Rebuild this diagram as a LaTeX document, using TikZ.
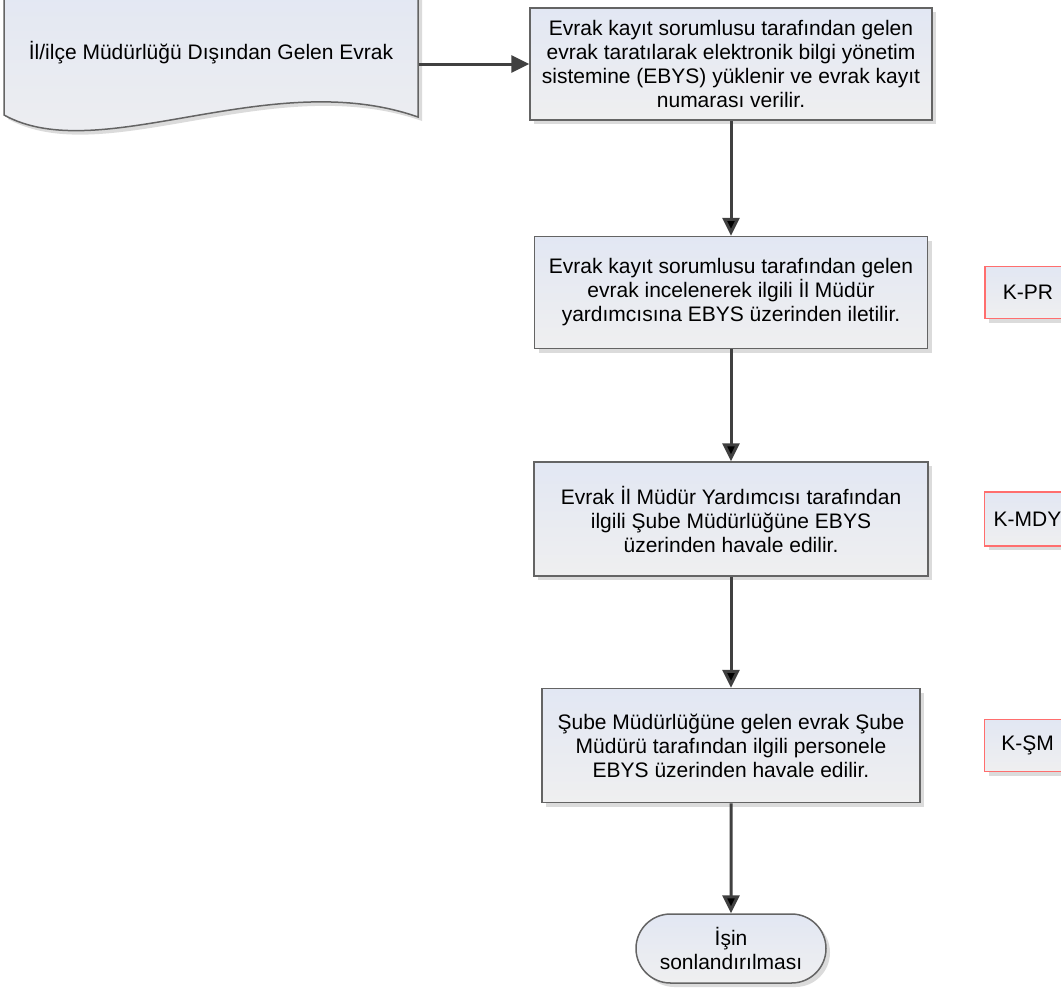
\documentclass[tikz,border=0pt]{standalone}
\usepackage{fontspec}
\setmainfont{Liberation Sans}
\usetikzlibrary{positioning, shapes.misc, shadows, arrows.meta}

\begin{document}
\begin{tikzpicture}[x=0.5pt, y=-0.5pt, ->, >={Triangle[width=8.5pt,length=9pt]}, node distance=57pt, semithick]
%====Renk tanimlari===============================================================
	\definecolor{kenargri}{RGB}{100,100,100}
	\definecolor{okgri}{RGB}{64,64,64}
	\definecolor{ustmavi}{RGB}{226,231,243}
	\definecolor{altgri}{RGB}{239,239,240}
	\definecolor{kodkirmizi}{RGB}{255,110,110}
%====Stil tanimlari===============================================================
	\tikzstyle{golge}=[drop shadow={shadow xshift=2pt, shadow yshift=-2pt, fill=black!14, opacity=1}]
	\tikzstyle{islem}=[rectangle, draw=kenargri, line width=0.75pt, top color=ustmavi, bottom color=altgri, golge, align=center, inner sep=2pt, minimum height=56pt, font=\fontsize{10.5pt}{12pt}\selectfont]
	\tikzstyle{kod}=[islem, draw=kodkirmizi, minimum width=43pt, minimum height=26pt]
	\tikzstyle{bitis}=[islem, rounded rectangle, minimum width=99pt, minimum height=34.5pt]
	\tikzstyle{ok}=[draw=okgri, line width=1.5pt]
	\useasboundingbox (0,0) rectangle (1061,997);
%====Belge sekli===============================================================
	\path[-, draw=kenargri, line width=0.75pt, top color=ustmavi, bottom color=altgri, golge]
		(4,-20) -- (4,115) .. controls (100,168) and (270,65) .. (418,117) -- (418,-20) -- cycle;
%====Adimlar ve konumlari===============================================================
	\node[minimum width=207pt, align=center, font=\fontsize{10.5pt}{12pt}\selectfont] (doc) at (211,53) {İl/ilçe Müdürlüğü Dışından Gelen Evrak};
	\node[islem, minimum width=201pt] (kayit) at (731,64) {Evrak kayıt sorumlusu tarafından gelen\\evrak taratılarak elektronik bilgi yönetim\\sistemine (EBYS) yüklenir ve evrak kayıt\\numarası verilir.};
	\node[islem, minimum width=196.5pt]	(inceleme) [below=57.5pt of kayit]	{Evrak kayıt sorumlusu tarafından gelen\\evrak incelenerek ilgili İl Müdür\\yardımcısına EBYS üzerinden iletilir.};
	\node[islem, minimum width=197pt, minimum height=57pt]	(havale) [below=56pt of inceleme]	{Evrak İl Müdür Yardımcısı tarafından\\ilgili Şube Müdürlüğüne EBYS\\üzerinden havale edilir.};
	\node[islem, minimum width=189pt, minimum height=57pt]	(sube) [below=55.5pt of havale]	{Şube Müdürlüğüne gelen evrak Şube\\Müdürü tarafından ilgili personele\\EBYS üzerinden havale edilir.};
	\node[bitis]	(son) [below=55pt of sube]	{İşin\\sonlandırılması};
%====Kod kutulari===============================================================
	\node[kod]	(kpr) [right=28pt of inceleme]	{K-PR};
	\node[kod, minimum height=27pt]	(kmdy) [right=27.5pt of havale]	{K-MDY};
	\node[kod]	(ksm) [right=31.5pt of sube]	{K-ŞM};
%====Baglantilar===============================================================
	\draw[ok] (doc.east |- kayit.west) -- (kayit.west);
	\path[ok]	(kayit)		edge	(inceleme)
				(inceleme)	edge	(havale)
				(havale)	edge	(sube)
				(sube)		edge	(son);
\end{tikzpicture}
\end{document}
